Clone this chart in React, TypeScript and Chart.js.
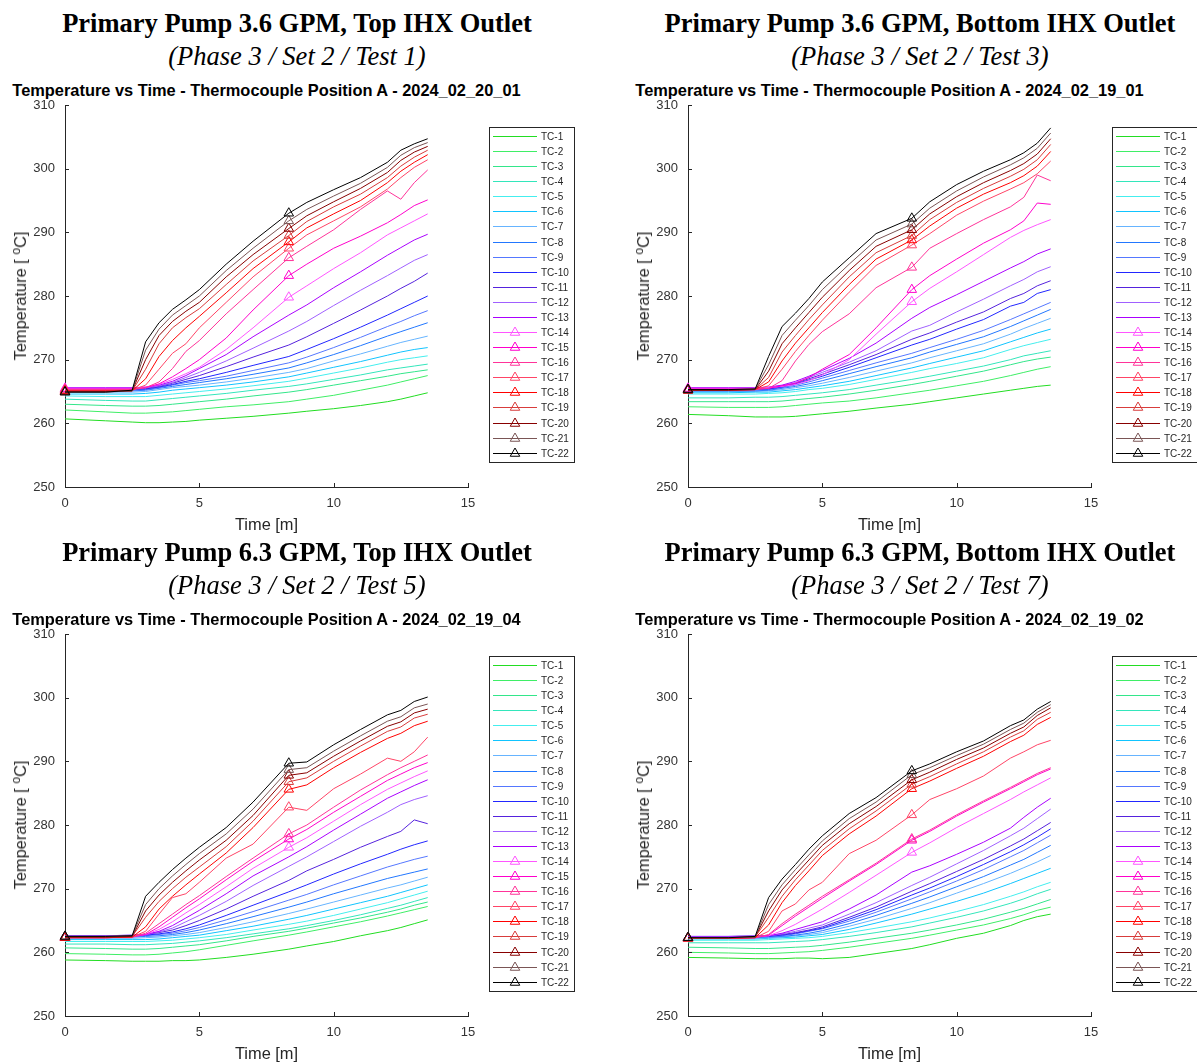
import React, { useEffect, useRef } from "react";
import { Chart, registerables } from "chart.js";

Chart.register(...registerables);

// Sample times (minutes) shared by every thermocouple trace
const TIME_MIN = [0, 1.5, 2.5, 3, 3.5, 4, 4.5, 5, 6, 7, 8.33, 9, 10, 11, 12, 12.5, 13, 13.5];
// Sample times that carry a triangle marker (TC-14 and above)
const MARKER_TIMES = [0, 8.33];
const FIRST_MARKED = 13;

const X_TICKS = [0, 5, 10, 15];
const Y_TICKS = [250, 260, 270, 280, 290, 300, 310];

const TC_NAMES = [
  "TC-1", "TC-2", "TC-3", "TC-4", "TC-5", "TC-6", "TC-7", "TC-8", "TC-9", "TC-10", "TC-11",
  "TC-12", "TC-13", "TC-14", "TC-15", "TC-16", "TC-17", "TC-18", "TC-19", "TC-20", "TC-21", "TC-22",
];
const TC_COLORS = [
  "#22dd22", "#3fee66", "#33e68a", "#33e6bb", "#44eeee", "#11c4ff", "#66b4ff", "#2277ff",
  "#5577ff", "#2226ff", "#5522dd", "#a060ff", "#aa00ff", "#ff55ff", "#ff00cc", "#ff3399",
  "#ff4466", "#ff0000", "#d83c3c", "#880000", "#7a5555", "#000000",
];

// ---- Test 1 : 2024_02_20_01 ----
const T1_TC01 = [260.7, 260.4, 260.2, 260.1, 260.1, 260.2, 260.3, 260.5, 260.8, 261.1, 261.6, 261.9, 262.3, 262.8, 263.4, 263.8, 264.3, 264.8];
const T1_TC02 = [262.1, 261.8, 261.6, 261.6, 261.7, 261.8, 262.0, 262.2, 262.6, 262.9, 263.4, 263.8, 264.4, 265.2, 266.0, 266.5, 267.0, 267.5];
const T1_TC03 = [263.0, 262.8, 262.7, 262.7, 262.8, 263.0, 263.2, 263.4, 263.8, 264.3, 264.9, 265.3, 266.0, 266.7, 267.4, 267.8, 268.1, 268.4];
const T1_TC04 = [263.8, 263.6, 263.5, 263.5, 263.7, 263.9, 264.1, 264.3, 264.7, 265.2, 265.8, 266.2, 266.9, 267.6, 268.4, 268.7, 269.0, 269.3];
const T1_TC05 = [264.3, 264.2, 264.2, 264.2, 264.4, 264.6, 264.8, 265.0, 265.4, 265.9, 266.6, 267.1, 267.9, 268.7, 269.6, 270.0, 270.3, 270.6];
const T1_TC06 = [264.6, 264.6, 264.6, 264.7, 264.9, 265.2, 265.4, 265.6, 266.0, 266.5, 267.3, 267.9, 268.8, 269.7, 270.7, 271.2, 271.6, 271.9];
const T1_TC07 = [264.9, 264.9, 264.9, 265.0, 265.3, 265.6, 265.8, 266.0, 266.5, 267.1, 268.0, 268.6, 269.8, 270.9, 272.1, 272.7, 273.2, 273.7];
const T1_TC08 = [265.1, 265.1, 265.1, 265.2, 265.5, 265.8, 266.1, 266.4, 267.0, 267.7, 268.7, 269.5, 270.8, 272.2, 273.7, 274.4, 275.1, 275.8];
const T1_TC09 = [265.2, 265.2, 265.2, 265.3, 265.6, 266.0, 266.4, 266.7, 267.4, 268.3, 269.5, 270.4, 271.9, 273.5, 275.2, 276.0, 276.9, 277.7];
const T1_TC10 = [265.3, 265.3, 265.3, 265.4, 265.7, 266.1, 266.6, 267.0, 268.0, 269.1, 270.5, 271.6, 273.3, 275.1, 277.0, 278.0, 279.0, 280.0];
const T1_TC11 = [265.4, 265.4, 265.4, 265.5, 265.8, 266.3, 266.9, 267.5, 268.9, 270.4, 272.3, 273.6, 275.7, 277.8, 280.0, 281.2, 282.3, 283.6];
const T1_TC12 = [265.5, 265.5, 265.5, 265.6, 265.9, 266.4, 267.2, 268.0, 269.8, 271.8, 274.5, 276.0, 278.5, 280.9, 283.2, 284.4, 285.6, 286.5];
const T1_TC13 = [265.6, 265.6, 265.6, 265.7, 266.0, 266.6, 267.5, 268.6, 270.8, 273.6, 277.0, 278.6, 281.3, 283.8, 286.4, 287.6, 288.8, 289.7];
const T1_TC14 = [265.5, 265.5, 265.5, 265.7, 266.1, 266.9, 267.8, 268.8, 271.6, 275.0, 279.8, 281.6, 284.3, 286.8, 289.6, 290.7, 291.8, 292.9];
const T1_TC15 = [265.4, 265.4, 265.4, 265.6, 266.2, 267.3, 268.6, 270.0, 273.4, 277.8, 283.2, 285.0, 287.5, 289.4, 291.5, 292.8, 294.2, 295.1];
const T1_TC16 = [265.3, 265.3, 265.3, 265.6, 266.5, 268.6, 271.3, 273.0, 277.2, 281.0, 286.0, 287.8, 290.4, 293.6, 296.5, 295.2, 297.8, 299.8];
const T1_TC17 = [265.2, 265.2, 265.2, 266.0, 268.5, 271.0, 272.5, 275.0, 279.0, 283.0, 287.5, 289.6, 291.8, 294.0, 296.8, 298.6, 300.2, 301.4];
const T1_TC18 = [265.1, 265.1, 265.1, 267.0, 270.5, 273.0, 275.0, 276.8, 280.5, 284.3, 288.5, 290.7, 292.9, 295.0, 297.8, 299.6, 301.0, 302.2];
const T1_TC19 = [265.0, 265.0, 265.1, 268.5, 272.5, 275.0, 276.6, 278.0, 281.8, 285.5, 289.5, 291.7, 294.0, 296.0, 298.6, 300.4, 301.8, 302.9];
const T1_TC20 = [265.0, 265.0, 265.1, 270.0, 273.8, 276.0, 277.6, 279.0, 283.0, 286.5, 290.6, 292.6, 294.8, 296.9, 299.4, 301.3, 302.6, 303.5];
const T1_TC21 = [264.9, 264.9, 265.1, 271.5, 274.8, 277.0, 278.5, 280.0, 284.0, 287.5, 291.8, 293.6, 295.7, 297.7, 300.2, 302.1, 303.3, 304.1];
const T1_TC22 = [264.9, 264.9, 265.2, 272.8, 275.8, 277.9, 279.4, 281.0, 285.0, 288.6, 293.0, 294.7, 296.7, 298.6, 301.0, 302.9, 303.9, 304.7];

// ---- Test 3 : 2024_02_19_01 ----
const T3_TC01 = [261.4, 261.2, 261.0, 261.0, 261.0, 261.1, 261.3, 261.5, 261.9, 262.4, 263.0, 263.4, 264.0, 264.6, 265.2, 265.5, 265.8, 266.0];
const T3_TC02 = [262.6, 262.5, 262.5, 262.5, 262.6, 262.8, 263.0, 263.2, 263.5, 264.0, 264.8, 265.2, 265.9, 266.6, 267.5, 268.0, 268.5, 268.9];
const T3_TC03 = [263.4, 263.4, 263.4, 263.4, 263.5, 263.7, 263.9, 264.1, 264.6, 265.2, 266.1, 266.6, 267.4, 268.2, 269.2, 269.7, 270.1, 270.4];
const T3_TC04 = [264.0, 264.0, 264.1, 264.1, 264.2, 264.4, 264.6, 264.8, 265.3, 266.0, 266.9, 267.4, 268.2, 269.0, 270.0, 270.6, 271.0, 271.4];
const T3_TC05 = [264.6, 264.6, 264.6, 264.7, 264.8, 265.0, 265.3, 265.5, 266.1, 266.9, 268.0, 268.6, 269.4, 270.3, 271.6, 272.2, 272.7, 273.2];
const T3_TC06 = [264.8, 264.8, 264.9, 264.9, 265.1, 265.3, 265.6, 265.9, 266.6, 267.5, 268.7, 269.4, 270.4, 271.4, 272.8, 273.5, 274.2, 274.8];
const T3_TC07 = [265.0, 265.0, 265.0, 265.1, 265.3, 265.6, 265.9, 266.3, 267.2, 268.2, 269.5, 270.3, 271.4, 272.5, 274.0, 274.9, 275.7, 276.5];
const T3_TC08 = [265.1, 265.1, 265.1, 265.2, 265.5, 265.8, 266.2, 266.7, 267.8, 268.9, 270.3, 271.2, 272.4, 273.6, 275.2, 276.1, 277.0, 277.9];
const T3_TC09 = [265.2, 265.2, 265.2, 265.3, 265.6, 266.0, 266.5, 267.1, 268.3, 269.5, 271.0, 271.9, 273.2, 274.6, 276.3, 277.2, 278.1, 279.0];
const T3_TC10 = [265.3, 265.3, 265.3, 265.4, 265.7, 266.2, 266.8, 267.4, 268.8, 270.3, 272.3, 273.2, 274.8, 276.3, 278.4, 279.0, 280.4, 281.0];
const T3_TC11 = [265.4, 265.4, 265.4, 265.5, 265.8, 266.3, 267.0, 267.7, 269.2, 270.8, 273.2, 274.2, 275.9, 277.5, 279.6, 280.4, 281.6, 282.4];
const T3_TC12 = [265.5, 265.5, 265.5, 265.6, 265.9, 266.4, 267.2, 268.0, 269.6, 271.4, 274.5, 275.4, 277.5, 279.5, 281.6, 282.6, 283.8, 284.6];
const T3_TC13 = [265.6, 265.6, 265.6, 265.7, 266.0, 266.6, 267.4, 268.3, 270.2, 272.6, 276.5, 278.2, 280.2, 282.3, 284.4, 285.4, 286.6, 287.4];
const T3_TC14 = [265.5, 265.5, 265.5, 265.6, 265.8, 266.1, 266.7, 267.6, 270.0, 274.0, 279.1, 281.2, 283.8, 286.5, 289.2, 290.3, 291.2, 292.0];
const T3_TC15 = [265.4, 265.4, 265.4, 265.5, 265.9, 266.3, 267.2, 268.5, 270.8, 275.0, 281.0, 283.2, 285.8, 288.3, 290.4, 291.8, 294.6, 294.4];
const T3_TC16 = [265.3, 265.3, 265.3, 265.5, 266.7, 269.8, 272.4, 274.4, 277.2, 281.3, 284.5, 287.5, 289.8, 292.0, 294.0, 295.5, 299.0, 298.1];
const T3_TC17 = [265.2, 265.2, 265.3, 265.9, 268.5, 271.3, 273.8, 276.2, 280.6, 284.8, 288.0, 289.8, 292.7, 294.9, 296.8, 297.8, 299.2, 301.2];
const T3_TC18 = [265.2, 265.2, 265.3, 266.5, 269.8, 272.6, 275.0, 277.4, 281.8, 285.8, 288.8, 291.0, 293.8, 296.0, 297.8, 298.9, 300.4, 302.7];
const T3_TC19 = [265.2, 265.2, 265.3, 267.2, 271.2, 273.8, 276.3, 278.6, 283.0, 286.8, 289.5, 292.0, 294.7, 296.9, 298.8, 299.9, 301.4, 303.8];
const T3_TC20 = [265.2, 265.2, 265.3, 268.2, 272.5, 275.0, 277.4, 279.8, 284.0, 287.8, 290.4, 292.9, 295.6, 297.8, 299.7, 300.8, 302.3, 304.7];
const T3_TC21 = [265.3, 265.3, 265.4, 269.2, 273.8, 276.2, 278.5, 281.0, 285.0, 288.8, 291.3, 293.8, 296.5, 298.7, 300.6, 301.7, 303.2, 305.6];
const T3_TC22 = [265.3, 265.3, 265.4, 270.5, 275.2, 277.3, 279.6, 282.2, 286.0, 289.8, 292.2, 294.8, 297.5, 299.6, 301.4, 302.5, 304.0, 306.4];

// ---- Test 5 : 2024_02_19_04 ----
const T5_TC01 = [258.8, 258.7, 258.6, 258.6, 258.6, 258.7, 258.7, 258.8, 259.2, 259.7, 260.5, 261.0, 261.7, 262.6, 263.4, 263.9, 264.5, 265.1];
const T5_TC02 = [259.8, 259.7, 259.6, 259.6, 259.7, 259.9, 260.1, 260.4, 261.1, 261.8, 262.7, 263.2, 264.0, 264.8, 265.7, 266.2, 266.7, 267.2];
const T5_TC03 = [260.7, 260.6, 260.5, 260.5, 260.6, 260.8, 261.0, 261.2, 261.8, 262.5, 263.3, 263.8, 264.6, 265.4, 266.3, 266.8, 267.4, 267.9];
const T5_TC04 = [261.3, 261.3, 261.2, 261.2, 261.3, 261.4, 261.6, 261.8, 262.3, 262.9, 263.7, 264.2, 265.0, 265.9, 266.9, 267.4, 268.0, 268.6];
const T5_TC05 = [261.7, 261.7, 261.7, 261.7, 261.8, 261.9, 262.1, 262.3, 262.8, 263.5, 264.4, 264.9, 265.8, 266.8, 267.8, 268.4, 269.0, 269.6];
const T5_TC06 = [262.0, 262.0, 262.0, 262.0, 262.1, 262.3, 262.5, 262.7, 263.4, 264.1, 265.2, 265.8, 266.8, 267.8, 268.8, 269.4, 270.0, 270.6];
const T5_TC07 = [262.2, 262.2, 262.2, 262.3, 262.4, 262.6, 262.8, 263.1, 263.9, 264.8, 266.1, 266.8, 267.9, 269.0, 270.1, 270.6, 271.2, 271.8];
const T5_TC08 = [262.4, 262.4, 262.4, 262.5, 262.6, 262.8, 263.1, 263.5, 264.5, 265.6, 267.1, 267.9, 269.2, 270.4, 271.6, 272.1, 272.6, 273.1];
const T5_TC09 = [262.5, 262.5, 262.5, 262.6, 262.8, 263.0, 263.4, 263.9, 265.1, 266.4, 268.2, 269.1, 270.6, 272.0, 273.4, 274.0, 274.6, 275.1];
const T5_TC10 = [262.6, 262.6, 262.6, 262.7, 262.9, 263.2, 263.7, 264.3, 265.8, 267.4, 269.5, 270.6, 272.3, 273.9, 275.4, 276.2, 276.9, 277.5];
const T5_TC11 = [262.6, 262.6, 262.7, 262.8, 263.1, 263.5, 264.2, 265.0, 266.8, 268.8, 271.3, 272.8, 274.6, 276.5, 278.2, 279.0, 280.8, 280.2];
const T5_TC12 = [262.6, 262.6, 262.7, 262.8, 263.2, 263.8, 264.8, 265.8, 268.0, 270.5, 273.5, 275.0, 277.4, 279.8, 282.0, 283.2, 284.0, 284.6];
const T5_TC13 = [262.5, 262.5, 262.6, 262.8, 263.3, 264.2, 265.4, 266.6, 269.2, 272.0, 275.0, 276.6, 279.2, 281.7, 284.2, 285.2, 286.2, 287.1];
const T5_TC14 = [262.4, 262.4, 262.5, 262.8, 263.6, 264.8, 266.2, 267.5, 270.3, 273.2, 276.5, 278.0, 280.6, 283.2, 285.6, 286.6, 287.6, 288.5];
const T5_TC15 = [262.3, 262.3, 262.4, 262.8, 264.0, 265.5, 267.0, 268.4, 271.4, 274.3, 277.8, 279.3, 282.0, 284.5, 287.0, 288.0, 289.0, 289.8];
const T5_TC16 = [262.3, 262.3, 262.4, 263.0, 264.5, 266.0, 267.5, 268.9, 271.9, 274.8, 278.6, 280.0, 282.8, 285.5, 287.9, 289.0, 290.0, 291.0];
const T5_TC17 = [262.3, 262.3, 262.4, 263.3, 266.0, 268.6, 269.2, 271.0, 274.8, 277.0, 282.8, 282.3, 285.7, 288.0, 290.5, 290.0, 291.5, 293.8];
const T5_TC18 = [262.3, 262.3, 262.4, 264.0, 266.8, 268.8, 270.6, 272.3, 275.6, 279.6, 285.6, 286.3, 289.0, 291.4, 293.6, 294.4, 295.6, 296.3];
const T5_TC19 = [262.4, 262.4, 262.5, 265.5, 268.0, 270.0, 271.8, 273.4, 276.6, 280.6, 286.8, 287.4, 290.0, 292.4, 294.7, 295.4, 296.8, 297.4];
const T5_TC20 = [262.4, 262.4, 262.5, 266.5, 269.0, 271.0, 272.8, 274.5, 277.6, 281.5, 287.8, 288.2, 290.8, 293.2, 295.5, 296.2, 297.6, 298.2];
const T5_TC21 = [262.5, 262.5, 262.6, 267.5, 270.0, 272.0, 273.8, 275.5, 278.6, 282.5, 288.7, 289.0, 291.6, 294.0, 296.3, 297.0, 298.4, 299.0];
const T5_TC22 = [262.5, 262.5, 262.6, 268.8, 271.0, 273.0, 274.8, 276.5, 279.6, 283.6, 289.7, 289.9, 292.6, 295.0, 297.3, 298.0, 299.4, 300.1];

// ---- Test 7 : 2024_02_19_02 ----
const T7_TC01 = [259.2, 259.1, 259.0, 259.0, 259.0, 259.1, 259.1, 259.0, 259.2, 259.8, 260.6, 261.2, 262.2, 263.0, 264.2, 265.0, 265.6, 266.0];
const T7_TC02 = [260.0, 259.9, 259.8, 259.8, 259.9, 260.0, 260.1, 260.3, 260.8, 261.4, 262.2, 262.7, 263.5, 264.3, 265.3, 265.9, 266.6, 267.1];
const T7_TC03 = [260.8, 260.7, 260.6, 260.6, 260.7, 260.8, 260.9, 261.1, 261.6, 262.2, 263.0, 263.5, 264.3, 265.2, 266.3, 266.9, 267.6, 268.3];
const T7_TC04 = [261.5, 261.5, 261.5, 261.5, 261.6, 261.7, 261.8, 262.0, 262.5, 263.1, 264.0, 264.6, 265.5, 266.5, 267.7, 268.4, 269.2, 269.9];
const T7_TC05 = [261.9, 261.9, 261.9, 262.0, 262.1, 262.2, 262.3, 262.5, 263.1, 263.8, 264.8, 265.4, 266.4, 267.5, 268.8, 269.5, 270.3, 271.0];
const T7_TC06 = [262.1, 262.1, 262.1, 262.2, 262.3, 262.4, 262.6, 262.8, 263.6, 264.6, 266.0, 266.8, 268.0, 269.3, 270.8, 271.6, 272.4, 273.2];
const T7_TC07 = [262.2, 262.2, 262.2, 262.3, 262.4, 262.6, 262.8, 263.1, 264.1, 265.2, 266.9, 267.8, 269.3, 270.8, 272.4, 273.3, 274.2, 275.2];
const T7_TC08 = [262.3, 262.3, 262.3, 262.4, 262.5, 262.7, 263.0, 263.4, 264.5, 265.8, 267.7, 268.7, 270.3, 271.9, 273.7, 274.6, 275.7, 276.8];
const T7_TC09 = [262.4, 262.4, 262.4, 262.5, 262.6, 262.9, 263.3, 263.7, 264.9, 266.3, 268.4, 269.5, 271.2, 273.0, 275.0, 276.0, 277.2, 278.4];
const T7_TC10 = [262.4, 262.4, 262.5, 262.5, 262.7, 263.0, 263.4, 263.8, 265.2, 266.7, 269.0, 270.1, 271.9, 273.8, 275.8, 276.9, 278.1, 279.4];
const T7_TC11 = [262.5, 262.5, 262.6, 262.6, 262.8, 263.1, 263.5, 264.0, 265.5, 267.1, 269.6, 270.8, 272.7, 274.6, 276.7, 277.8, 279.1, 280.4];
const T7_TC12 = [262.5, 262.5, 262.6, 262.6, 262.9, 263.3, 263.8, 264.3, 266.0, 267.8, 270.5, 271.8, 273.9, 276.0, 278.3, 279.5, 281.0, 282.5];
const T7_TC13 = [262.4, 262.4, 262.5, 262.6, 263.0, 263.6, 264.2, 264.8, 266.8, 269.0, 272.6, 273.6, 275.4, 277.3, 279.5, 281.2, 282.8, 284.2];
const T7_TC14 = [262.3, 262.3, 262.4, 262.6, 263.4, 264.4, 265.6, 266.8, 269.4, 272.1, 275.7, 277.2, 279.6, 281.8, 284.0, 285.2, 286.3, 287.4];
const T7_TC15 = [262.2, 262.2, 262.3, 262.7, 264.2, 265.7, 267.1, 268.5, 271.2, 273.8, 277.6, 279.0, 281.4, 283.6, 285.7, 286.8, 287.9, 288.8];
const T7_TC16 = [262.2, 262.2, 262.3, 262.8, 264.5, 266.0, 267.4, 268.8, 271.4, 274.0, 277.8, 279.2, 281.6, 283.8, 285.9, 287.0, 288.1, 289.0];
const T7_TC17 = [262.2, 262.2, 262.3, 263.3, 266.5, 267.6, 269.8, 271.0, 275.5, 277.6, 281.6, 284.0, 285.7, 287.7, 290.5, 291.5, 292.6, 293.3];
const T7_TC18 = [262.2, 262.2, 262.3, 264.3, 267.8, 270.5, 272.8, 275.2, 278.6, 281.4, 285.7, 286.9, 288.9, 290.8, 293.1, 294.1, 295.8, 296.9];
const T7_TC19 = [262.2, 262.2, 262.4, 265.5, 268.8, 271.4, 273.7, 276.0, 279.4, 282.2, 286.4, 287.6, 289.6, 291.5, 293.8, 294.8, 296.6, 297.7];
const T7_TC20 = [262.3, 262.3, 262.4, 266.5, 269.8, 272.2, 274.5, 276.8, 280.2, 282.9, 287.1, 288.3, 290.3, 292.1, 294.4, 295.4, 297.2, 298.4];
const T7_TC21 = [262.3, 262.3, 262.4, 267.5, 270.6, 273.0, 275.3, 277.5, 281.0, 283.6, 287.9, 289.0, 290.9, 292.7, 295.0, 296.0, 297.7, 298.9];
const T7_TC22 = [262.3, 262.3, 262.5, 268.6, 271.5, 273.8, 276.2, 278.3, 281.8, 284.3, 288.5, 289.6, 291.5, 293.2, 295.6, 296.5, 298.2, 299.4];

const TEST1 = [T1_TC01, T1_TC02, T1_TC03, T1_TC04, T1_TC05, T1_TC06, T1_TC07, T1_TC08, T1_TC09, T1_TC10, T1_TC11, T1_TC12, T1_TC13, T1_TC14, T1_TC15, T1_TC16, T1_TC17, T1_TC18, T1_TC19, T1_TC20, T1_TC21, T1_TC22];
const TEST3 = [T3_TC01, T3_TC02, T3_TC03, T3_TC04, T3_TC05, T3_TC06, T3_TC07, T3_TC08, T3_TC09, T3_TC10, T3_TC11, T3_TC12, T3_TC13, T3_TC14, T3_TC15, T3_TC16, T3_TC17, T3_TC18, T3_TC19, T3_TC20, T3_TC21, T3_TC22];
const TEST5 = [T5_TC01, T5_TC02, T5_TC03, T5_TC04, T5_TC05, T5_TC06, T5_TC07, T5_TC08, T5_TC09, T5_TC10, T5_TC11, T5_TC12, T5_TC13, T5_TC14, T5_TC15, T5_TC16, T5_TC17, T5_TC18, T5_TC19, T5_TC20, T5_TC21, T5_TC22];
const TEST7 = [T7_TC01, T7_TC02, T7_TC03, T7_TC04, T7_TC05, T7_TC06, T7_TC07, T7_TC08, T7_TC09, T7_TC10, T7_TC11, T7_TC12, T7_TC13, T7_TC14, T7_TC15, T7_TC16, T7_TC17, T7_TC18, T7_TC19, T7_TC20, T7_TC21, T7_TC22];

const PANELS = [
  { left: 0, top: 0, heading: "Primary Pump 3.6 GPM, Top IHX Outlet", sub: "(Phase 3 / Set 2 / Test 1)", run: "2024_02_20_01", series: TEST1 },
  { left: 623, top: 0, heading: "Primary Pump 3.6 GPM, Bottom IHX Outlet", sub: "(Phase 3 / Set 2 / Test 3)", run: "2024_02_19_01", series: TEST3 },
  { left: 0, top: 529, heading: "Primary Pump 6.3 GPM, Top IHX Outlet", sub: "(Phase 3 / Set 2 / Test 5)", run: "2024_02_19_04", series: TEST5 },
  { left: 623, top: 529, heading: "Primary Pump 6.3 GPM, Bottom IHX Outlet", sub: "(Phase 3 / Set 2 / Test 7)", run: "2024_02_19_02", series: TEST7 },
];

const SANS = "'Liberation Sans', Arial, Helvetica, sans-serif";
const SERIF = "'Liberation Serif', 'Times New Roman', Times, serif";
const INK = "#262626";

// Canvas geometry inside each panel (panel-relative pixels)
const CANVAS_W = 598;
const CANVAS_H = 460;
const CANVAS_TOP = 80;
const PLOT_TOP = 105;
const PLOT_BOTTOM = 487;
const PLOT_LEFT = 65;
const PLOT_RIGHT = 468;
const MARKER_R = 5.5;

function triangle(ctx: CanvasRenderingContext2D, x: number, y: number, r: number) {
  const s = Math.sin(Math.PI / 3) * r;
  ctx.beginPath();
  ctx.moveTo(x, y - r);
  ctx.lineTo(x + s, y + r / 2);
  ctx.lineTo(x - s, y + r / 2);
  ctx.closePath();
  ctx.stroke();
}

// Inward-pointing tick marks on the two visible axes
const inwardTicks = {
  id: "inwardTicks",
  afterDraw(chart: any) {
    const { ctx, chartArea, scales } = chart;
    ctx.save();
    ctx.strokeStyle = INK;
    ctx.lineWidth = 1;
    ctx.beginPath();
    X_TICKS.forEach((v) => {
      const px = Math.round(scales.x.getPixelForValue(v)) + 0.5;
      ctx.moveTo(px, chartArea.bottom);
      ctx.lineTo(px, chartArea.bottom - 4);
    });
    Y_TICKS.forEach((v) => {
      const py = Math.round(scales.y.getPixelForValue(v)) + 0.5;
      ctx.moveTo(chartArea.left, py);
      ctx.lineTo(chartArea.left + 4, py);
    });
    ctx.stroke();
    ctx.restore();
  },
};

// Boxed legend to the right of the axes
const tcLegend = {
  id: "tcLegend",
  afterDraw(chart: any) {
    const ctx: CanvasRenderingContext2D = chart.ctx;
    const bx = 489.5;
    const by = 127.5 - CANVAS_TOP;
    const bw = 85;
    const bh = 335;
    ctx.save();
    ctx.fillStyle = "#ffffff";
    ctx.fillRect(bx, by, bw, bh);
    ctx.strokeStyle = INK;
    ctx.lineWidth = 1;
    ctx.strokeRect(bx, by, bw, bh);
    ctx.font = `10px ${SANS}`;
    ctx.textBaseline = "middle";
    ctx.textAlign = "left";
    chart.data.datasets.forEach((ds: any, i: number) => {
      const y = Math.round(136 - CANVAS_TOP + i * 15.08) + 0.5;
      ctx.strokeStyle = ds.borderColor;
      ctx.lineWidth = 1;
      ctx.beginPath();
      ctx.moveTo(493, y);
      ctx.lineTo(537, y);
      ctx.stroke();
      if (i >= FIRST_MARKED) triangle(ctx, 515, y, MARKER_R);
      ctx.fillStyle = INK;
      ctx.fillText(ds.label, 541, y + 0.5);
    });
    ctx.restore();
  },
};

function TempChart({ series }: { series: number[][] }) {
  const ref = useRef<HTMLCanvasElement | null>(null);

  useEffect(() => {
    const canvas = ref.current;
    if (!canvas) return;
    const datasets = series.map((vals, i) => {
      const marked = i >= FIRST_MARKED;
      return {
        label: TC_NAMES[i],
        data: vals.map((y, k) => ({ x: TIME_MIN[k], y })),
        borderColor: TC_COLORS[i],
        backgroundColor: TC_COLORS[i],
        borderWidth: 1,
        tension: 0,
        fill: false,
        pointStyle: "triangle",
        pointRadius: vals.map((_, k) => (marked && MARKER_TIMES.includes(TIME_MIN[k]) ? MARKER_R : 0)),
        pointHoverRadius: 0,
        pointBorderColor: TC_COLORS[i],
        pointBackgroundColor: "rgba(0,0,0,0)",
        pointBorderWidth: 1,
        clip: false,
        order: TC_NAMES.length - i,
      };
    });

    const tickFont = { family: SANS, size: 13 };
    const chart = new Chart(canvas, {
      type: "line",
      data: { datasets } as any,
      options: {
        animation: false,
        responsive: false,
        devicePixelRatio: 1,
        events: [],
        layout: { padding: { left: 0, right: CANVAS_W - PLOT_RIGHT, top: PLOT_TOP - CANVAS_TOP, bottom: 0 } },
        plugins: {
          legend: { display: false },
          tooltip: { enabled: false },
          title: { display: false },
        },
        scales: {
          x: {
            type: "linear",
            min: 0,
            max: 15,
            afterBuildTicks: (scale: any) => {
              scale.ticks = X_TICKS.map((v) => ({ value: v }));
            },
            afterFit: (scale: any) => {
              scale.height = CANVAS_TOP + CANVAS_H - PLOT_BOTTOM;
            },
            grid: { display: true, drawOnChartArea: false, drawTicks: false },
            border: { display: true, color: INK, width: 1 },
            ticks: { padding: 9, font: tickFont, color: "#333333", maxRotation: 0, autoSkip: false, callback: (v: any) => String(v) },
          },
          y: {
            type: "linear",
            min: 250,
            max: 310,
            afterBuildTicks: (scale: any) => {
              scale.ticks = Y_TICKS.map((v) => ({ value: v }));
            },
            afterFit: (scale: any) => {
              scale.width = PLOT_LEFT;
            },
            grid: { display: true, drawOnChartArea: false, drawTicks: false },
            border: { display: true, color: INK, width: 1 },
            ticks: { padding: 10, font: tickFont, color: "#333333", autoSkip: false, callback: (v: any) => String(v) },
          },
        },
      } as any,
      plugins: [inwardTicks, tcLegend],
    });
    return () => chart.destroy();
  }, [series]);

  return (
    <canvas
      ref={ref}
      width={CANVAS_W}
      height={CANVAS_H}
      style={{ position: "absolute", left: 0, top: CANVAS_TOP, width: CANVAS_W, height: CANVAS_H }}
    />
  );
}

function Panel({ left, top, heading, sub, run, series }: any) {
  const plotMid = (PLOT_LEFT + PLOT_RIGHT) / 2;
  return (
    <div style={{ position: "absolute", left, top, width: 598, height: 531 }}>
      <div style={{ position: "absolute", left: 0, top: 8, width: 594, textAlign: "center", fontFamily: SERIF, fontWeight: "bold", fontSize: 26.5, lineHeight: "30px", whiteSpace: "nowrap", color: "#000" }}>
        {heading}
      </div>
      <div style={{ position: "absolute", left: 0, top: 41, width: 594, textAlign: "center", fontFamily: SERIF, fontStyle: "italic", fontSize: 26.5, lineHeight: "30px", whiteSpace: "nowrap", color: "#000" }}>
        {sub}
      </div>
      <div style={{ position: "absolute", left: plotMid, top: 90, transform: "translate(-50%, -50%)", fontFamily: SANS, fontWeight: "bold", fontSize: 16.4, lineHeight: "18px", whiteSpace: "nowrap", color: "#000" }}>
        {`Temperature vs Time - Thermocouple Position A - ${run}`}
      </div>
      <TempChart series={series} />
      <div style={{ position: "absolute", left: 20, top: (PLOT_TOP + PLOT_BOTTOM) / 2, transform: "translate(-50%, -50%) rotate(-90deg)", fontFamily: SANS, fontSize: 16.4, lineHeight: "18px", whiteSpace: "nowrap", color: INK }}>
        Temperature [ <sup style={{ fontSize: 12, verticalAlign: "6px", lineHeight: 0 }}>o</sup>C]
      </div>
      <div style={{ position: "absolute", left: plotMid, top: 524, transform: "translate(-50%, -50%)", fontFamily: SANS, fontSize: 16.4, lineHeight: "18px", whiteSpace: "nowrap", color: INK }}>
        Time [m]
      </div>
    </div>
  );
}

export default function App() {
  return (
    <div style={{ position: "absolute", left: 0, top: 0, width: 1197, height: 1062, background: "#ffffff", overflow: "hidden" }}>
      {PANELS.map((p) => (
        <Panel key={p.run} {...p} />
      ))}
    </div>
  );
}
